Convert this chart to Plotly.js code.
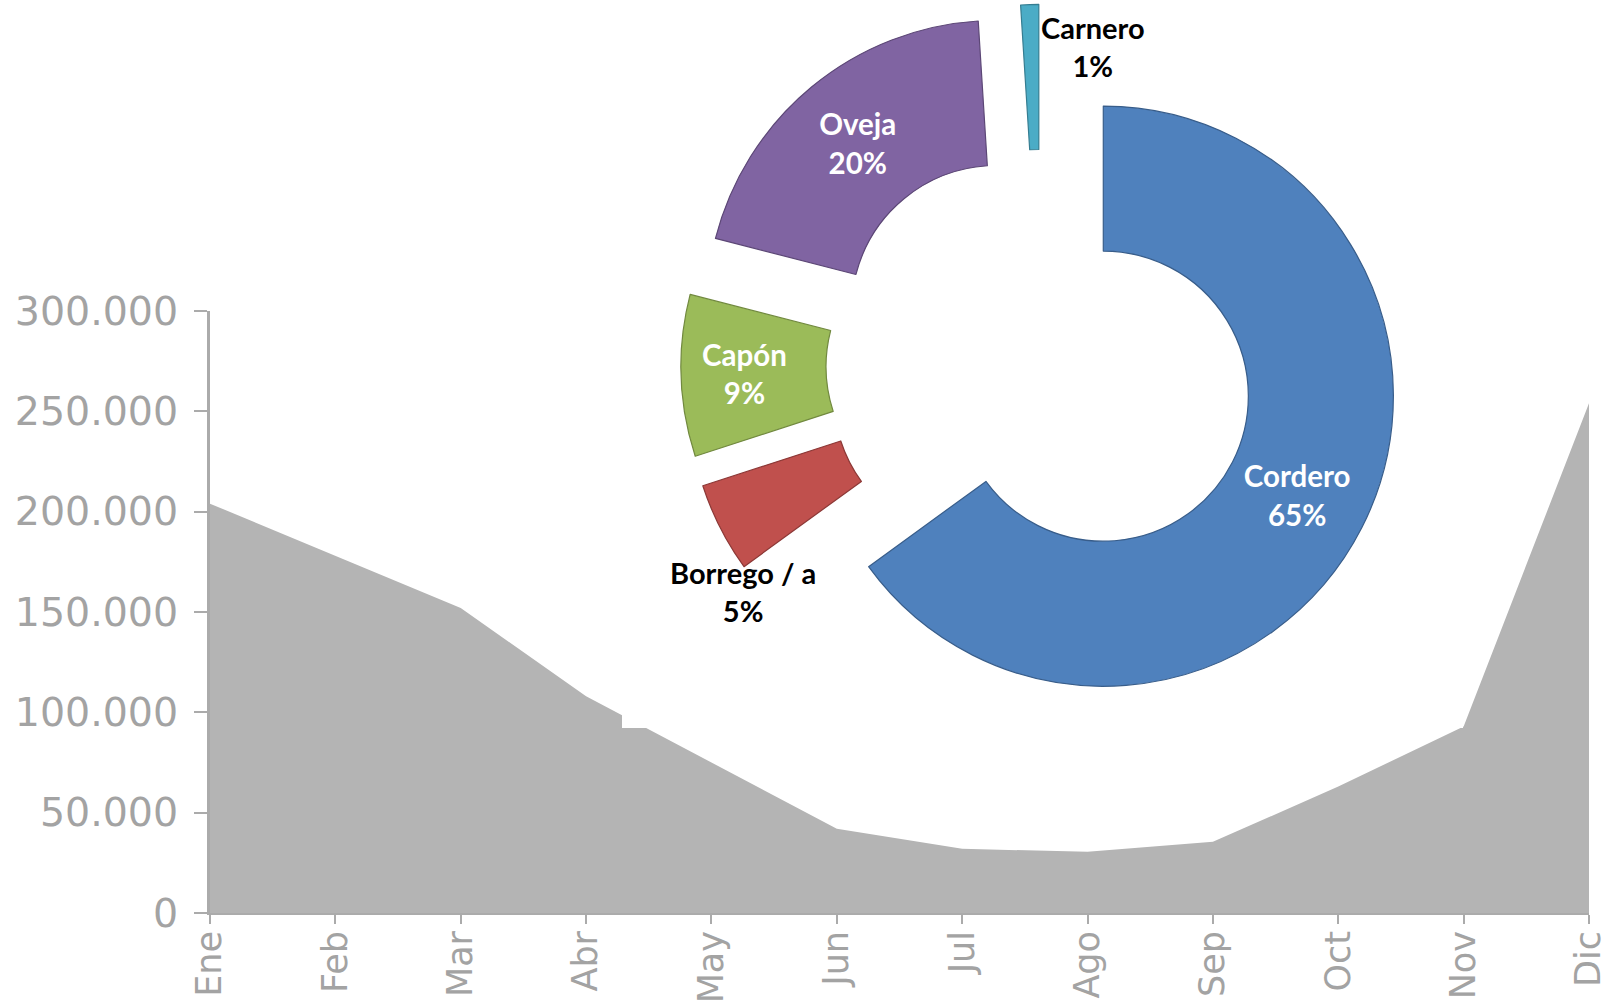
<!DOCTYPE html>
<html>
<head>
<meta charset="utf-8">
<script src="https://cdn.plot.ly/plotly-3.0.1.min.js"></script>
<style>
  html, body { margin: 0; padding: 0; background: #ffffff; overflow: hidden; }
  #area { position: absolute; left: 0; top: 0; width: 1614px; height: 1001px; }
  #donut { position: absolute; left: 622px; top: 0; width: 841px; height: 728px; background: #ffffff; }
</style>
</head>
<body>
<div id="area"></div>
<div id="donut"></div>
<script>
// ---- Data ----
const months = ['Ene', 'Feb', 'Mar', 'Abr', 'May', 'Jun', 'Jul', 'Ago', 'Sep', 'Oct', 'Nov', 'Dic'];
const volumes = [204000, 178000, 152000, 108000, 75000, 42000, 32000, 30500, 35500, 63000, 93000, 254000];
const yTickValues = [0, 50000, 100000, 150000, 200000, 250000, 300000];

const categories = ['Cordero', 'Borrego / a', 'Capón', 'Oveja', 'Carnero'];
const shares = [65, 5, 9, 20, 1];

// ---- Styles ----
const sliceColors = ['#4F81BD', '#C0504D', '#9BBB59', '#8064A2', '#4BACC6'];
const sliceBorders = ['#385D8A', '#8C3836', '#71893F', '#5C4776', '#357D91'];
const outsideSlices = ['Borrego / a', 'Carnero'];
const axisGray = '#ababab';
const labelGray = '#a3a3a3';
const tickFontFamily = '"DejaVu Sans", Verdana, sans-serif';
const labelFont = 'Lato, "Open Sans", sans-serif';

// ---- Area chart ----
Plotly.newPlot('area', [{
  type: 'scatter',
  x: months,
  y: volumes,
  mode: 'lines',
  fill: 'tozeroy',
  fillcolor: '#b4b4b4',
  line: { color: '#b4b4b4', width: 0 },
  hoverinfo: 'x+y'
}], {
  width: 1614,
  height: 1001,
  margin: { l: 210, r: 25, t: 311, b: 88 },
  paper_bgcolor: '#ffffff',
  plot_bgcolor: '#ffffff',
  separators: ',.',
  showlegend: false,
  xaxis: {
    type: 'category',
    range: [0, 11],
    showgrid: false,
    zeroline: false,
    showline: true,
    linecolor: axisGray,
    linewidth: 2,
    ticks: 'outside',
    ticklen: 9,
    tickwidth: 2,
    tickcolor: axisGray,
    tickangle: -90,
    ticklabelstandoff: -7,
    tickfont: { family: tickFontFamily, size: 35, color: labelGray }
  },
  yaxis: {
    range: [0, 300000],
    tickvals: yTickValues,
    tickformat: ',d',
    showgrid: false,
    zeroline: false,
    showline: true,
    linecolor: axisGray,
    linewidth: 3,
    ticks: 'outside',
    ticklen: 13,
    tickwidth: 2,
    tickcolor: axisGray,
    ticklabelstandoff: 8,
    tickfont: { family: tickFontFamily, size: 39.5, color: labelGray }
  }
}, { staticPlot: true });

// ---- Donut chart ----
const sliceText = categories.map((c, i) => outsideSlices.includes(c) ? '' : c + '<br>' + shares[i] + '%');
const textPos = categories.map(c => outsideSlices.includes(c) ? 'none' : 'inside');

const W = 841, H = 728;
const outsideLabelPos = {
  'Borrego / a': { x: 121, y: 591 },
  'Carnero': { x: 471, y: 46 }
};
const annotations = categories.filter(c => outsideSlices.includes(c)).map(c => {
  const i = categories.indexOf(c);
  return {
    xref: 'paper', yref: 'paper',
    x: outsideLabelPos[c].x / W,
    y: 1 - outsideLabelPos[c].y / H,
    xanchor: 'center', yanchor: 'middle',
    showarrow: false,
    text: c + '<br>' + shares[i] + '%',
    align: 'center',
    font: { family: labelFont, size: 29, color: '#000000', weight: 'bold' }
  };
});

Plotly.newPlot('donut', [{
  type: 'pie',
  labels: categories,
  values: shares,
  sort: false,
  direction: 'clockwise',
  rotation: 0,
  hole: 0.5,
  pull: 0.241,
  domain: { x: [59 / W, 779 / W], y: [(H - 724.4) / H, (H - 4.4) / H] },
  marker: { colors: sliceColors, line: { color: sliceBorders, width: 1.2 } },
  text: sliceText,
  textinfo: 'text',
  textposition: textPos,
  insidetextorientation: 'horizontal',
  insidetextfont: { family: labelFont, size: 29.5, color: '#ffffff', weight: 'bold' },
  hoverinfo: 'label+percent'
}], {
  width: W,
  height: H,
  margin: { l: 0, r: 0, t: 0, b: 0 },
  paper_bgcolor: '#ffffff',
  showlegend: false,
  annotations: annotations
}, { staticPlot: true });
</script>
</body>
</html>
